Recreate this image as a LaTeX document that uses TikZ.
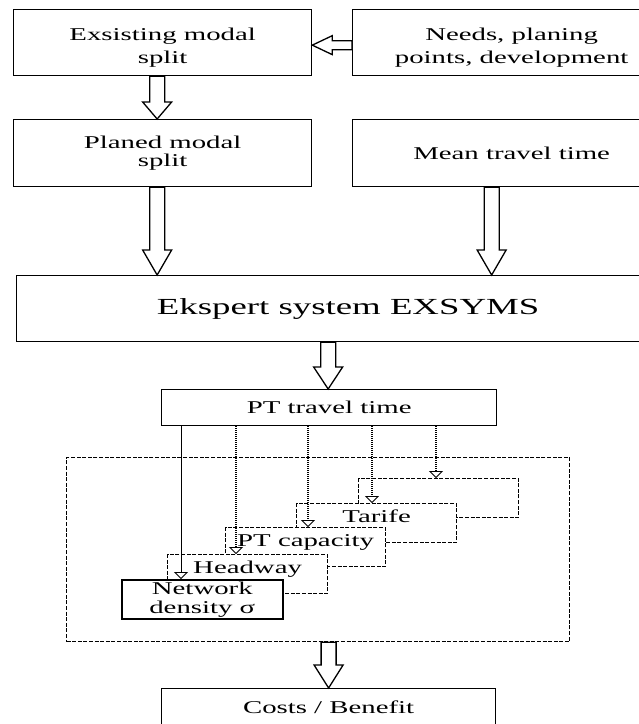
\documentclass[tikz,border=0pt]{standalone}
\usepackage{fontspec}
\setmainfont{Liberation Serif}[FakeStretch=1.6]
\usetikzlibrary{calc,arrows.meta,positioning}

\tikzset{
    block/.style = {draw, rectangle, line width=1.3pt, fill=white,
        inner sep=0pt, anchor=north west, align=center,
        font=\fontsize{18}{23}\selectfont},
    layer/.style = {block, line width=1.2pt, dash pattern=on 4pt off 1.6pt,
        minimum width=160pt, minimum height=39pt, text height=13pt, text depth=14pt},
    frame/.style = {draw, line width=1.2pt, dash pattern=on 4pt off 1.6pt,
        anchor=north west, inner sep=0pt},
    hollow/.style = {draw, line width=1.3pt, fill=white, line join=miter},
    feed/.style = {draw, line width=1pt,
        -{Triangle[open,length=7pt,width=14pt,line width=0.8pt]}},
    dotfeed/.style = {feed, line width=1.2pt, dash pattern=on 1pt off 1pt}
}
% big hollow arrows
\newcommand{\hollowdown}[3][23pt]{%
    \draw[hollow] let \p1 = (#2), \p2 = (#3) in
        (\x1-7.5pt,\y1) -- (\x1-7.5pt,\y2+#1) -- (\x1-14.5pt,\y2+#1) -- (\x1,\y2)
        -- (\x1+14.5pt,\y2+#1) -- (\x1+7.5pt,\y2+#1) -- (\x1+7.5pt,\y1) -- cycle;
}
\newcommand{\hollowleft}[2]{%
    \draw[hollow] let \p1 = (#1), \p2 = (#2) in
        (\x1,\y1+4.5pt) -- (\x2+20pt,\y1+4.5pt) -- (\x2+20pt,\y1+9.5pt) -- (\x2,\y1)
        -- (\x2+20pt,\y1-9.5pt) -- (\x2+20pt,\y1-4.5pt) -- (\x1,\y1-4.5pt) -- cycle;
}

\begin{document}
\begin{tikzpicture}[x=1pt, y=-1pt]
    \useasboundingbox (0,0) rectangle (639,724);
    \clip (0,0) rectangle (639,724);
    % upper part
    \node [block, minimum width=298pt, minimum height=66pt, text height=46pt] (exist) at (13,9) {Exsisting modal\\split};
    \node [block, minimum width=318pt, minimum height=66pt, text height=46pt] (needs) at (352,9) {Needs, planing\\points, development};
    \node [block, minimum width=298pt, minimum height=67pt, font=\fontsize{18}{18}\selectfont] (planed) at (13,119) {Planed modal\\split};
    \node [block, minimum width=318pt, minimum height=67pt] (mean) at (352,119) {Mean travel time};
    \node [block, minimum width=663pt, minimum height=66pt, font=\fontsize{23}{27}\selectfont] (eks) at (16,275) {Ekspert system EXSYMS};
    \node [block, minimum width=335pt, minimum height=36pt] (pt) at (161,389) {PT travel time};
    \hollowleft{$(needs.west)+(0,2.5)$}{exist.east}
    \hollowdown[17pt]{$(exist.south)+(-5.5,0)$}{planed.north}
    \hollowdown[25pt]{$(planed.south)+(-5.5,0)$}{eks.north}
    \hollowdown[25pt]{$(mean.south)+(-20,0)$}{eks.north}
    \hollowdown[22pt]{$(eks.south)+(-20,0)$}{pt.north}
    % stacked measures
    \node [frame, minimum width=503pt, minimum height=184pt] (frame) at (66,457) {};
    \foreach \name/\px/\py/\txt in {back/358/478/{}, tar/296/503/Tarife, cap/225/527/PT capacity, head/167/554/Headway}
        \node [layer] (\name) at (\px,\py) {\txt};
    \node [block, line width=1.6pt, minimum width=161pt, minimum height=39pt, font=\fontsize{18}{19}\selectfont] (net) at (121,579) {Network\\density σ};
    \foreach \n/\px in {1/181,2/236,3/308,4/372,5/436}
        \coordinate (tap\n) at (\px,0);
    \draw [feed] (pt.south -| tap1) -- (tap1 |- net.north);
    \foreach \n/\tgt in {2/head,3/cap,4/tar,5/back}
        \draw [dotfeed] (pt.south -| tap\n) -- (tap\n |- \tgt.north);
    % result
    \node [block, minimum width=334pt, minimum height=37pt] (cost) at (161,688) {Costs / Benefit};
    \hollowdown[23pt]{$(frame.south)+(10.5,0)$}{cost.north}
\end{tikzpicture}
\end{document}
